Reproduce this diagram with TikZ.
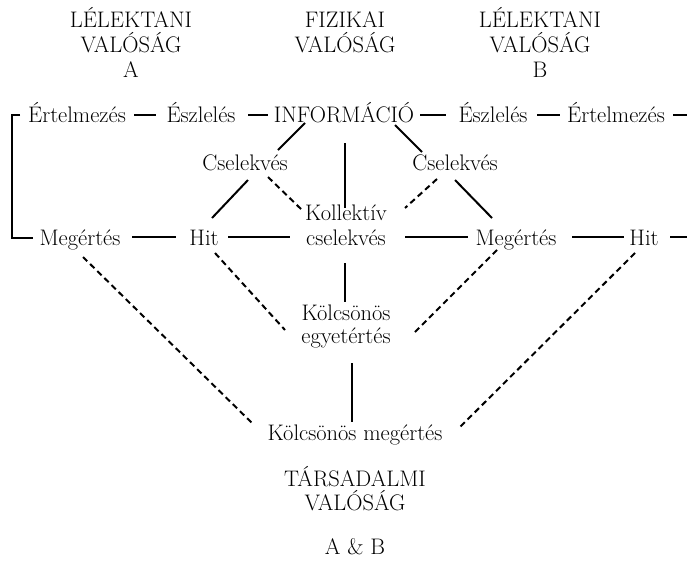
\documentclass[tikz,border=0pt]{standalone}
\tikzset{
  lbl/.style={anchor=base, inner sep=0pt, font=\fontsize{22.5}{26}\selectfont},
  solidln/.style={line width=2pt},
  dashln/.style={line width=2pt, dash pattern=on 6pt off 4pt}
}
\begin{document}
\begin{tikzpicture}[x=1pt,y=-1pt]
\useasboundingbox (0,0) rectangle (687,563);
% headings
\node[lbl] (hA1) at (131,27) {LÉLEKTANI};
\node[lbl] (hA2) at (131,52) {VALÓSÁG};
\node[lbl] (hA3) at (131,77) {A};
\node[lbl] (hF1) at (345,27) {FIZIKAI};
\node[lbl] (hF2) at (345,52) {VALÓSÁG};
\node[lbl] (hB1) at (540,27) {LÉLEKTANI};
\node[lbl] (hB2) at (540,52) {VALÓSÁG};
\node[lbl] (hB3) at (540,77) {B};
% row 1
\node[lbl] (ert1) at (77,122) {Értelmezés};
\node[lbl] (esz1) at (201,122) {Észlelés};
\node[lbl] (info) at (344,122) {INFORMÁCIÓ};
\node[lbl] (esz2) at (493,122) {Észlelés};
\node[lbl] (ert2) at (616,122) {Értelmezés};
% cselekves
\node[lbl] (cs1) at (245,170) {Cselekvés};
\node[lbl] (cs2) at (455,170) {Cselekvés};
% row 2
\node[lbl] (meg1) at (80,245) {Megértés};
\node[lbl] (hit1) at (204,245) {Hit};
\node[lbl] (koll1) at (346,220) {Kollektív};
\node[lbl] (koll2) at (346,245) {cselekvés};
\node[lbl] (meg2) at (516,245) {Megértés};
\node[lbl] (hit2) at (644,245) {Hit};
% lower
\node[lbl] (keg1) at (346,320) {Kölcsönös};
\node[lbl] (keg2) at (346,343) {egyetértés};
\node[lbl] (kmeg) at (355,440) {Kölcsönös megértés};
\node[lbl] (tars1) at (355,486) {TÁRSADALMI};
\node[lbl] (tars2) at (355,510) {VALÓSÁG};
\node[lbl] (ab) at (355,554) {A \& B};
\coordinate (rend1) at (687,115);
\coordinate (rend2) at (687,237);
% bracket
\draw[solidln] ([shift={(-57,-7)}]ert1.base) -- ++(-8,0) |- ([shift={(-47,-7)}]meg1.base);
% row 1 connectors
\draw[solidln] ([shift={(57,-7)}]ert1.base) -- ([shift={(-45,-7)}]esz1.base);
\draw[solidln] ([shift={(47,-7)}]esz1.base) -- ([shift={(-76,-7)}]info.base);
\draw[solidln] ([shift={(76,-7)}]info.base) -- ([shift={(-47,-7)}]esz2.base);
\draw[solidln] ([shift={(44,-7)}]esz2.base) -- ([shift={(-56,-7)}]ert2.base);
\draw[solidln] ([shift={(57,-7)}]ert2.base) -- (rend1);
% row 2 connectors
\draw[solidln] ([shift={(52,-8)}]meg1.base) -- ([shift={(-28,-8)}]hit1.base);
\draw[solidln] ([shift={(24,-8)}]hit1.base) -- ([shift={(-56,-8)}]koll2.base);
\draw[solidln] ([shift={(59,-8)}]koll2.base) -- ([shift={(-48,-8)}]meg2.base);
\draw[solidln] ([shift={(56,-8)}]meg2.base) -- ([shift={(-20,-8)}]hit2.base);
\draw[solidln] ([shift={(26,-8)}]hit2.base) -- (rend2);
% diagonals
\draw[solidln] ([shift={(-39,1)}]info.base) -- ([shift={(33,-20)}]cs1.base);
\draw[solidln] ([shift={(3,10)}]cs1.base) -- ([shift={(8,-27)}]hit1.base);
\draw[dashln] ([shift={(23,7)}]cs1.base) -- ([shift={(-44,-10)}]koll1.base);
\draw[solidln] ([shift={(1,21)}]info.base) -- ([shift={(-1,-12)}]koll1.base);
\draw[solidln] ([shift={(51,3)}]info.base) -- ([shift={(-33,-18)}]cs2.base);
\draw[dashln] ([shift={(-18,9)}]cs2.base) -- ([shift={(59,-12)}]koll1.base);
\draw[solidln] ([shift={(0,10)}]cs2.base) -- ([shift={(-24,-27)}]meg2.base);
\draw[solidln] ([shift={(-1,18)}]koll2.base) -- ([shift={(-1,-18)}]keg1.base);
\draw[dashln] ([shift={(11,8)}]hit1.base) -- ([shift={(-61,-13)}]keg2.base);
\draw[dashln] ([shift={(-19,5)}]meg2.base) -- ([shift={(69,-11)}]keg2.base);
\draw[solidln] ([shift={(6,20)}]keg2.base) -- ([shift={(-3,-18)}]kmeg.base);
\draw[dashln] ([shift={(3,12)}]meg1.base) -- ([shift={(-103,-17)}]kmeg.base);
\draw[dashln] ([shift={(-9,8)}]hit2.base) -- ([shift={(105,-13)}]kmeg.base);
\end{tikzpicture}
\end{document}
